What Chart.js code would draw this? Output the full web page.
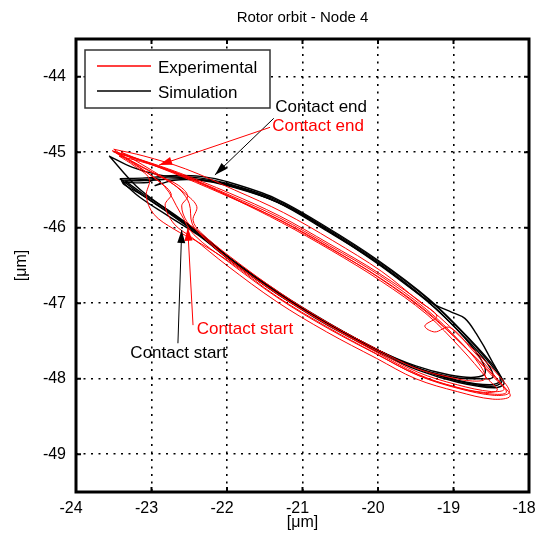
<!DOCTYPE html>
<html lang="en">
<head>
  <meta charset="UTF-8" />
  <title>Rotor orbit - Node 4</title>
  <script src="https://cdn.jsdelivr.net/npm/chart.js"></script>
  <style>
    body { margin: 0; background: #fff; }
    canvas { display: block; }
  </style>
</head>
<body>
  <canvas id="orbit" width="539" height="543"></canvas>

  <script>
    // ticks [um]
    const xTicks = [-24, -23, -22, -21, -20, -19, -18];
    const yTicks = [-49, -48, -47, -46, -45, -44];

    // experimental orbit, one array per revolution [x, y] in um
    const exp1 = [[-23.52,-44.98],[-23.17,-45.09],[-22.64,-45.27],[-21.97,-45.54],[-21.31,-45.84],[-20.65,-46.21],[-19.99,-46.60],[-19.32,-47.07],[-18.79,-47.56],[-18.40,-47.96],[-18.26,-48.18],[-18.46,-48.22],[-18.93,-48.13],[-19.46,-47.96],[-19.99,-47.69],[-20.65,-47.34],[-21.31,-46.94],[-21.97,-46.46],[-22.44,-46.09],[-22.62,-45.80],[-22.83,-45.45],[-23.17,-45.20],[-23.52,-44.98]];
    const exp2 = [[-23.46,-45.01],[-23.12,-45.12],[-22.60,-45.31],[-21.95,-45.59],[-21.30,-45.90],[-20.64,-46.27],[-19.98,-46.66],[-19.34,-47.12],[-18.85,-47.58],[-18.48,-47.97],[-18.33,-48.14],[-18.50,-48.17],[-18.95,-48.08],[-19.48,-47.91],[-20.00,-47.64],[-20.66,-47.29],[-21.32,-46.88],[-21.98,-46.41],[-22.38,-46.05],[-22.53,-45.92],[-22.60,-45.71],[-22.52,-45.58],[-22.64,-45.44],[-22.90,-45.31],[-23.46,-45.01]];
    const exp3 = [[-23.50,-44.96],[-23.10,-45.05],[-22.55,-45.22],[-21.90,-45.50],[-21.25,-45.80],[-20.60,-46.17],[-19.95,-46.58],[-19.45,-46.98],[-19.22,-47.17],[-19.38,-47.30],[-19.25,-47.38],[-19.05,-47.32],[-18.75,-47.62],[-18.38,-48.05],[-18.25,-48.23],[-18.48,-48.27],[-18.95,-48.17],[-19.50,-48.00],[-20.02,-47.73],[-20.68,-47.38],[-21.34,-46.98],[-22.00,-46.50],[-22.45,-46.14],[-22.70,-45.95],[-22.82,-45.70],[-22.74,-45.55],[-22.95,-45.35],[-23.50,-44.96]];
    const exp4 = [[-23.43,-45.05],[-23.05,-45.15],[-22.50,-45.34],[-21.90,-45.62],[-21.28,-45.93],[-20.62,-46.30],[-19.97,-46.70],[-19.35,-47.15],[-18.90,-47.60],[-18.55,-48.00],[-18.42,-48.15],[-18.60,-48.18],[-19.00,-48.10],[-19.50,-47.94],[-20.02,-47.67],[-20.68,-47.31],[-21.34,-46.91],[-21.98,-46.44],[-22.40,-46.18],[-22.70,-46.02],[-22.97,-45.82],[-23.07,-45.58],[-23.03,-45.35],[-23.23,-45.18],[-23.43,-45.05]];
    const exp5 = [[-23.48,-45.00],[-23.15,-45.10],[-22.62,-45.29],[-21.96,-45.57],[-21.30,-45.87],[-20.64,-46.24],[-19.98,-46.63],[-19.36,-47.08],[-18.92,-47.50],[-18.65,-47.82],[-18.58,-48.00],[-18.75,-48.03],[-19.05,-47.98],[-19.50,-47.86],[-20.01,-47.61],[-20.66,-47.26],[-21.30,-46.86],[-21.95,-46.39],[-22.35,-46.06],[-22.45,-45.90],[-22.40,-45.72],[-22.55,-45.55],[-22.75,-45.40],[-23.05,-45.24],[-23.48,-45.00]];
    const exp6 = [[-23.40,-45.00],[-23.08,-45.13],[-22.58,-45.33],[-21.93,-45.61],[-21.27,-45.91],[-20.61,-46.28],[-19.96,-46.68],[-19.38,-47.10],[-18.88,-47.55],[-18.45,-47.98],[-18.30,-48.18],[-18.52,-48.20],[-18.98,-48.11],[-19.47,-47.94],[-20.00,-47.66],[-20.64,-47.30],[-21.30,-46.90],[-21.96,-46.43],[-22.30,-46.14],[-22.46,-45.95],[-22.50,-45.68],[-22.62,-45.50],[-22.85,-45.33],[-23.40,-45.00]];

    // simulated orbit
    const sim1 = [[-23.40,-45.37],[-23.10,-45.36],[-22.77,-45.33],[-22.37,-45.34],[-22.01,-45.41],[-21.35,-45.63],[-20.69,-46.00],[-19.99,-46.45],[-19.32,-46.96],[-18.79,-47.48],[-18.46,-47.87],[-18.33,-48.06],[-18.46,-48.12],[-18.93,-48.05],[-19.46,-47.89],[-19.99,-47.65],[-20.65,-47.30],[-21.05,-47.06],[-21.58,-46.70],[-21.93,-46.44],[-22.37,-46.08],[-22.77,-45.80],[-23.10,-45.58],[-23.36,-45.43],[-23.40,-45.37]];
    const sim2 = [[-23.56,-45.05],[-23.25,-45.20],[-22.90,-45.30],[-22.40,-45.36],[-22.00,-45.43],[-21.33,-45.66],[-20.68,-46.03],[-20.00,-46.48],[-19.30,-46.99],[-19.02,-47.12],[-18.85,-47.20],[-18.70,-47.40],[-18.50,-47.75],[-18.38,-48.02],[-18.52,-48.08],[-18.95,-48.02],[-19.48,-47.86],[-20.00,-47.62],[-20.66,-47.27],[-21.30,-46.88],[-21.95,-46.42],[-22.40,-46.05],[-22.80,-45.76],[-23.20,-45.45],[-23.56,-45.05]];
    const sim3 = [[-23.38,-45.40],[-23.05,-45.40],[-22.95,-45.35],[-22.88,-45.40],[-22.95,-45.44],[-22.70,-45.37],[-22.35,-45.37],[-22.00,-45.44],[-21.34,-45.66],[-20.70,-46.03],[-20.00,-46.47],[-19.34,-46.98],[-18.85,-47.45],[-18.55,-47.80],[-18.48,-47.98],[-18.65,-48.00],[-19.00,-47.98],[-19.50,-47.85],[-20.00,-47.62],[-20.64,-47.28],[-21.30,-46.90],[-21.93,-46.45],[-22.38,-46.10],[-22.80,-45.83],[-23.15,-45.60],[-23.38,-45.40]];
    const sim4 = [[-23.35,-45.38],[-23.00,-45.37],[-22.60,-45.35],[-22.20,-45.38],[-21.80,-45.48],[-21.20,-45.72],[-20.60,-46.07],[-20.00,-46.46],[-19.40,-46.92],[-18.95,-47.35],[-18.65,-47.72],[-18.58,-47.92],[-18.72,-47.98],[-19.05,-47.95],[-19.50,-47.83],[-20.02,-47.61],[-20.66,-47.26],[-21.28,-46.88],[-21.92,-46.43],[-22.36,-46.07],[-22.76,-45.78],[-23.10,-45.56],[-23.35,-45.38]];
    const sim5 = [[-23.42,-45.35],[-23.08,-45.34],[-22.75,-45.31],[-22.35,-45.32],[-22.00,-45.39],[-21.36,-45.61],[-20.70,-45.98],[-20.00,-46.43],[-19.33,-46.94],[-18.80,-47.46],[-18.43,-47.88],[-18.36,-48.04],[-18.50,-48.10],[-18.95,-48.03],[-19.45,-47.87],[-19.98,-47.63],[-20.64,-47.28],[-21.30,-46.89],[-21.92,-46.46],[-22.35,-46.11],[-22.75,-45.82],[-23.12,-45.57],[-23.42,-45.35]];

    const expLoops = [exp1, exp2, exp3, exp4, exp5, exp6];
    const simLoops = [sim1, sim2, sim3, sim4, sim5];

    // text labels with arrows, in data units
    const notes = [
      { text: 'Contact end',   color: '#000', at: [-21.36, -44.41], from: [-21.38, -44.55], to: [-22.16, -45.30] },
      { text: 'Contact end',   color: '#f00', at: [-21.40, -44.65], from: [-21.43, -44.67], to: [-22.90, -45.17] },
      { text: 'Contact start', color: '#f00', at: [-22.40, -47.35], from: [-22.45, -47.29], to: [-22.52, -46.00] },
      { text: 'Contact start', color: '#000', at: [-23.28, -47.66], from: [-22.65, -47.53], to: [-22.60, -46.03] }
    ];

    const FONT = "'Liberation Sans', Arial, sans-serif";
    Chart.defaults.font.family = FONT;
    Chart.defaults.color = '#000';

    const toPts = loop => loop.map(p => ({ x: p[0], y: p[1] }));
    const datasets = [];
    expLoops.forEach(l => datasets.push({ label: 'Experimental', data: toPts(l), borderColor: '#ff0000', borderWidth: 1, showLine: true, pointRadius: 0, tension: 0.35 }));
    simLoops.forEach(l => datasets.push({ label: 'Simulation', data: toPts(l), borderColor: '#000', borderWidth: 1.4, showLine: true, pointRadius: 0, tension: 0.35 }));

    function arrow(ctx, x0, y0, x1, y1, color) {
      ctx.strokeStyle = color;
      ctx.fillStyle = color;
      ctx.lineWidth = 1;
      ctx.beginPath();
      ctx.moveTo(x0, y0);
      ctx.lineTo(x1, y1);
      ctx.stroke();
      const ang = Math.atan2(y1 - y0, x1 - x0);
      const len = 13, half = 4;
      const bx = x1 - len * Math.cos(ang), by = y1 - len * Math.sin(ang);
      ctx.beginPath();
      ctx.moveTo(x1, y1);
      ctx.lineTo(bx + half * Math.sin(ang), by - half * Math.cos(ang));
      ctx.lineTo(bx - half * Math.sin(ang), by + half * Math.cos(ang));
      ctx.closePath();
      ctx.fill();
    }

    const decor = {
      id: 'decor',
      afterDatasetsDraw(chart) {
        const { ctx, chartArea: a, scales: { x, y } } = chart;
        ctx.save();

        // annotations
        ctx.font = '17px ' + FONT;
        ctx.textBaseline = 'middle';
        ctx.textAlign = 'left';
        notes.forEach(n => {
          arrow(ctx, x.getPixelForValue(n.from[0]), y.getPixelForValue(n.from[1]),
                x.getPixelForValue(n.to[0]), y.getPixelForValue(n.to[1]), n.color);
          ctx.fillStyle = n.color;
          ctx.fillText(n.text, x.getPixelForValue(n.at[0]), y.getPixelForValue(n.at[1]));
        });

        // legend
        ctx.fillStyle = '#fff';
        ctx.fillRect(85, 50, 185, 58);
        ctx.strokeStyle = '#333';
        ctx.lineWidth = 1.5;
        ctx.strokeRect(85, 50, 185, 58);
        [['Experimental', '#ff0000', 66], ['Simulation', '#000', 91]].forEach(([t, c, ly]) => {
          ctx.strokeStyle = c;
          ctx.lineWidth = 1.5;
          ctx.beginPath();
          ctx.moveTo(97, ly);
          ctx.lineTo(151, ly);
          ctx.stroke();
          ctx.fillStyle = '#000';
          ctx.font = '17px ' + FONT;
          ctx.fillText(t, 158, ly + 2);
        });

        // inward tick marks
        ctx.strokeStyle = '#000';
        ctx.lineWidth = 2;
        ctx.beginPath();
        xTicks.forEach(v => {
          const px = x.getPixelForValue(v);
          ctx.moveTo(px, a.bottom); ctx.lineTo(px, a.bottom - 5);
          ctx.moveTo(px, a.top); ctx.lineTo(px, a.top + 5);
        });
        yTicks.forEach(v => {
          const py = y.getPixelForValue(v);
          ctx.moveTo(a.left, py); ctx.lineTo(a.left + 5, py);
          ctx.moveTo(a.right, py); ctx.lineTo(a.right - 5, py);
        });
        ctx.stroke();

        // frame
        ctx.lineWidth = 3;
        ctx.strokeRect(a.left, a.top, a.right - a.left, a.bottom - a.top);

        // title and axis titles
        const cx = (a.left + a.right) / 2;
        ctx.fillStyle = '#000';
        ctx.textAlign = 'center';
        ctx.font = '15px ' + FONT;
        ctx.fillText('Rotor orbit - Node 4', cx, 18);
        ctx.font = '16px ' + FONT;
        ctx.fillText('[\u03bcm]', cx, 523);
        ctx.translate(22, (a.top + a.bottom) / 2);
        ctx.rotate(-Math.PI / 2);
        ctx.fillText('[\u03bcm]', 0, 0);
        ctx.restore();
      }
    };

    new Chart(document.getElementById('orbit'), {
      type: 'scatter',
      data: { datasets },
      options: {
        responsive: false,
        animation: false,
        layout: { padding: { left: 0, right: 10, top: 39, bottom: 0 } },
        plugins: { legend: { display: false }, tooltip: { enabled: false } },
        scales: {
          x: {
            type: 'linear', min: -24, max: -18,
            afterBuildTicks: s => { s.ticks = xTicks.map(v => ({ value: v })); },
            afterFit: s => { s.height = 51; s.paddingLeft = 0; s.paddingRight = 0; },
            grid: { color: '#000', lineWidth: 1.6, drawTicks: false },
            border: { display: false, dash: [2, 5.5] },
            ticks: { color: '#000', font: { size: 16 }, padding: 7, labelOffset: -5 }
          },
          y: {
            type: 'linear', min: -49.5, max: -43.5,
            afterBuildTicks: s => { s.ticks = yTicks.map(v => ({ value: v })); },
            afterFit: s => { s.width = 76; s.paddingTop = 0; s.paddingBottom = 0; },
            grid: { color: '#000', lineWidth: 1.6, drawTicks: false },
            border: { display: false, dash: [2, 5.5] },
            ticks: { color: '#000', font: { size: 16 }, padding: 10 }
          }
        }
      },
      plugins: [decor]
    });
  </script>
</body>
</html>
